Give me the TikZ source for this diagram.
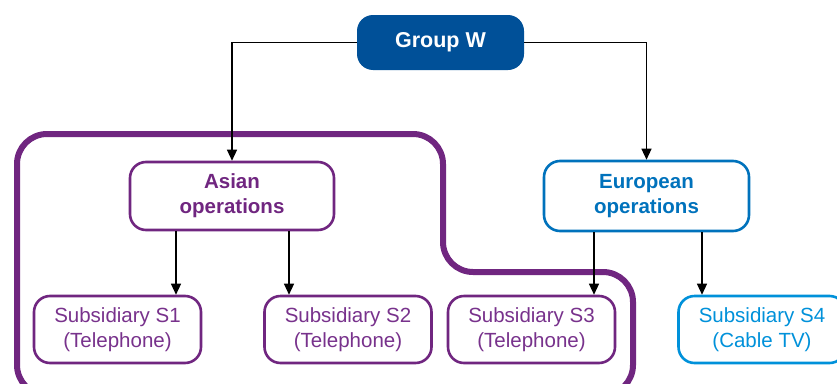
\documentclass[tikz,border=0pt]{standalone}
\usepackage{fontspec}
\setmainfont{Liberation Sans}
\usetikzlibrary{arrows.meta}
\definecolor{gwblue}{RGB}{0,80,152}
\definecolor{eublue}{RGB}{0,114,188}
\definecolor{ltblue}{RGB}{0,145,218}
\definecolor{purp}{RGB}{112,38,128}
\definecolor{purptxt}{RGB}{120,50,140}
\tikzset{
  gw/.style={fill=gwblue, text=white, font=\bfseries\fontsize{21.5}{25}\selectfont, rounded corners=16pt, minimum width=167pt, minimum height=55pt, inner sep=0pt},
  opbox/.style={draw, line width=2.6pt, fill=white, rounded corners=16pt, minimum width=204pt, minimum height=68pt, inner sep=0pt, align=center, font=\bfseries\fontsize{20.5}{25}\selectfont},
  subbox/.style={draw, line width=2.6pt, fill=white, rounded corners=16pt, minimum width=167pt, minimum height=67pt, inner sep=0pt, align=center, font=\fontsize{20.5}{25}\selectfont},
  arr/.style={draw=black, line width=1.3pt, -{Triangle[length=11pt,width=10pt]}},
  bigp/.style={draw=purp, line width=6pt, rounded corners=30pt}
}
\begin{document}
\begin{tikzpicture}[x=1pt,y=-1pt]
\useasboundingbox (0,0) rectangle (837,383);
\clip (0,0) rectangle (837,383);
\fill[white] (0,0) rectangle (837,383);
\draw[bigp] (17,395) -- (17,134) -- (443,134) -- (443,272) -- (633,272) -- (633,395) -- cycle;
\node[gw] (g) at (440.5,42.5) {Group W};
\node[opbox, draw=purp, text=purp] (asia) at (232,196) {Asian\\operations};
\node[opbox, draw=eublue, text=eublue, minimum width=205pt, minimum height=70pt] (euro) at (646.5,196) {European\\operations};
\node[subbox, draw=purp, text=purptxt] (s1) at (117.5,329.5) {Subsidiary S1\\(Telephone)};
\node[subbox, draw=purp, text=purptxt] (s2) at (348,329.5) {Subsidiary S2\\(Telephone)};
\node[subbox, draw=purp, text=purptxt] (s3) at (531.5,329.5) {Subsidiary S3\\(Telephone)};
\node[subbox, draw=ltblue, text=ltblue] (s4) at (762,329.5) {Subsidiary S4\\(Cable TV)};
\draw[arr] (g.west) -| (asia.north);
\draw[arr] (g.east) -| (euro.north);
\draw[arr] (asia.south -| 176,0) -- (s1.north -| 176,0);
\draw[arr] (asia.south -| 289,0) -- (s2.north -| 289,0);
\draw[arr] (euro.south -| 594,0) -- (s3.north -| 594,0);
\draw[arr] (euro.south -| 702,0) -- (s4.north -| 702,0);
\end{tikzpicture}
\end{document}
